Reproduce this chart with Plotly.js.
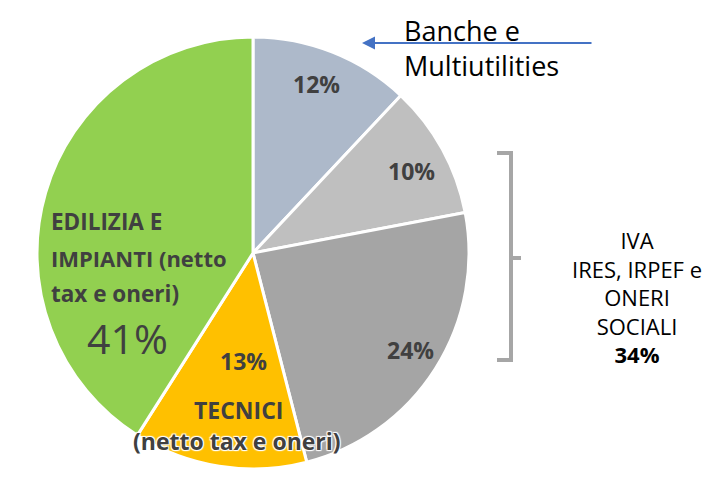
<!DOCTYPE html>
<html>
<head>
<meta charset="utf-8">
<script src="https://cdn.plot.ly/plotly-3.0.1.min.js"></script>
<style>
  html, body { margin: 0; padding: 0; background: #fff; }
  #chart { width: 720px; height: 482px; }
</style>
</head>
<body>
<div id="chart"></div>
<script>
// slices, clockwise from 12 o'clock
var categories = ["Banche e Multiutilities", "IVA", "IRES, IRPEF e ONERI SOCIALI", "TECNICI", "EDILIZIA E IMPIANTI"];
var values = [12, 10, 24, 13, 41];
var colors = ["#ADB9CA", "#BFBFBF", "#A5A5A5", "#FFC000", "#92D050"];

var greyLines = ["IVA", "IRES, IRPEF e", "ONERI", "SOCIALI"];
var greyTotal = "34%";

var W = 720, H = 482;
function px(x) { return x / W; }
function py(y) { return 1 - y / H; }

var dark = "#404040";
var font = "Open Sans, sans-serif";

var data = [{
    type: "pie",
    labels: categories,
    values: values,
    sort: false,
    direction: "clockwise",
    rotation: 0,
    textinfo: "none",
    hoverinfo: "label+percent",
    marker: { colors: colors, line: { color: "#ffffff", width: 3 } },
    domain: { x: [px(37), px(469)], y: [py(469), py(37)] },
    showlegend: false
}];

function pct(i) { return values[i] + "%"; }

var annotations = [
    // percentages inside the slices
    { x: px(316), y: py(84), text: "<b>" + pct(0) + "</b>", size: 23 },
    { x: px(411), y: py(171), text: "<b>" + pct(1) + "</b>", size: 23 },
    { x: px(410), y: py(350), text: "<b>" + pct(2) + "</b>", size: 23 },
    { x: px(243), y: py(361), text: "<b>" + pct(3) + "</b>", size: 23 },
    { x: px(238), y: py(410), text: "<b>TECNICI</b>", size: 23 },
    { x: px(237), y: py(441), text: "<b>(netto tax e oneri)</b>", size: 23, halo: true },
    { x: px(49), y: py(222), text: "<b>EDILIZIA E</b>", size: 22.5, left: true },
    { x: px(49), y: py(258), text: "<b>IMPIANTI (netto</b>", size: 22, left: true },
    { x: px(49), y: py(293), text: "<b>tax e oneri)</b>", size: 22.5, left: true },
    { x: px(127), y: py(338), text: pct(4), size: 41 },
    // right side notes
    { x: px(402), y: py(48), text: "Banche e<br>Multiutilities", size: 27, left: true, color: "#000" },
    { x: px(637), y: py(297), text: greyLines.join("<br>") + "<br><b>" + greyTotal + "</b>", size: 22, color: "#000" }
].map(function (a) {
    var f = { family: font, size: a.size, color: a.color || dark };
    if (a.halo) f.shadow = "1px 1px 1px #fff, -1px -1px 1px #fff, 1px -1px 1px #fff, -1px 1px 1px #fff";
    return {
        xref: "paper", yref: "paper", x: a.x, y: a.y,
        text: a.text, showarrow: false,
        xanchor: a.left ? "left" : "center", yanchor: "middle",
        align: a.left ? "left" : "center",
        font: f
    };
});

// arrow pointing to the first slice
annotations.push({
    xref: "paper", yref: "paper", axref: "pixel", ayref: "pixel",
    x: px(362), y: py(43), ax: 231, ay: 0,
    text: "", showarrow: true, arrowhead: 2, arrowsize: 1.3,
    arrowwidth: 2, arrowcolor: "#4472C4", standoff: 0
});

var bracket = "M " + px(497) + "," + py(153) + " L " + px(511) + "," + py(153) +
    " L " + px(511) + "," + py(360) + " L " + px(497) + "," + py(360) +
    " M " + px(511) + "," + py(258) + " L " + px(521) + "," + py(258);

var layout = {
    width: W, height: H,
    margin: { l: 0, r: 0, t: 0, b: 0 },
    paper_bgcolor: "#ffffff",
    font: { family: font },
    annotations: annotations,
    shapes: [{
        type: "path", xref: "paper", yref: "paper", path: bracket,
        line: { color: "#A6A6A6", width: 4 }
    }]
};

Plotly.newPlot("chart", data, layout, { displayModeBar: false });
</script>
</body>
</html>
